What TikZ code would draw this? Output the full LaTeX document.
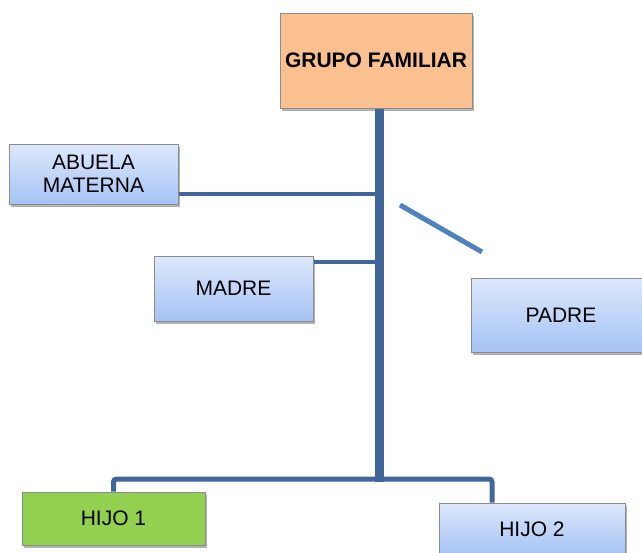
\documentclass[tikz,border=0pt]{standalone}
\usepackage{fontspec}
\setmainfont{Liberation Sans}
\usetikzlibrary{shadows}
\definecolor{trunkc}{HTML}{41679A}
\definecolor{diagc}{HTML}{4F81BD}
\definecolor{peach}{HTML}{FAC090}
\definecolor{bluetop}{HTML}{DDE8FB}
\definecolor{bluebot}{HTML}{A5C3F5}
\definecolor{greenc}{HTML}{92D050}
\definecolor{edgec}{HTML}{8C8C8C}
\tikzset{
  box/.style={rectangle, draw=edgec, line width=1pt, inner sep=2pt, align=center,
    font=\fontsize{21}{23}\selectfont,
    drop shadow={shadow xshift=2pt, shadow yshift=-3pt, fill=black, opacity=0.3}},
  bluebox/.style={box, top color=bluetop, bottom color=bluebot},
  peachbox/.style={box, fill=peach, font=\fontsize{21}{23}\selectfont\bfseries},
  greenbox/.style={box, fill=greenc},
  link/.style={draw=trunkc, line width=4pt},
  trunk/.style={draw=trunkc, line width=9pt},
  diag/.style={draw=diagc, line width=5pt},
}
\begin{document}
\begin{tikzpicture}[x=1pt, y=-1pt]
\useasboundingbox (0,0) rectangle (642,552);
% nodes
\node[peachbox, minimum width=192pt, minimum height=95pt] (grupo) at (376,60.5) {GRUPO FAMILIAR};
\node[bluebox, minimum width=169pt, minimum height=60pt] (abuela) at (93.5,174) {ABUELA\\MATERNA};
\node[bluebox, minimum width=159pt, minimum height=65pt] (madre) at (233.5,288.5) {MADRE};
\node[bluebox, minimum width=180pt, minimum height=74pt] (padre) at (561,315) {PADRE};
\node[greenbox, minimum width=183pt, minimum height=53pt] (hijo1) at (113.5,518.5) {HIJO 1};
\node[bluebox, minimum width=186pt, minimum height=52pt] (hijo2) at (532,529) {HIJO 2};
% junction coordinates
\coordinate (tb) at (379,479);
\coordinate (ja) at (379,194);
\coordinate (jm) at (379,262);
\coordinate (h2) at (492,0);
\coordinate (d1) at (400,205);
\coordinate (d2) at (482,252);
% connectors
\draw[link] (abuela.east |- ja) -- (ja);
\draw[link] (madre.east |- jm) -- (jm);
\draw[link, line width=5pt, rounded corners=3pt] (hijo1.north) -- (hijo1.north |- tb) -- (h2 |- tb) -- (h2 |- hijo2.north);
\draw[trunk] (grupo.south -| tb) -- ([yshift=-2.5pt]tb);
\draw[diag] (d1) -- (d2);
\end{tikzpicture}
\end{document}
